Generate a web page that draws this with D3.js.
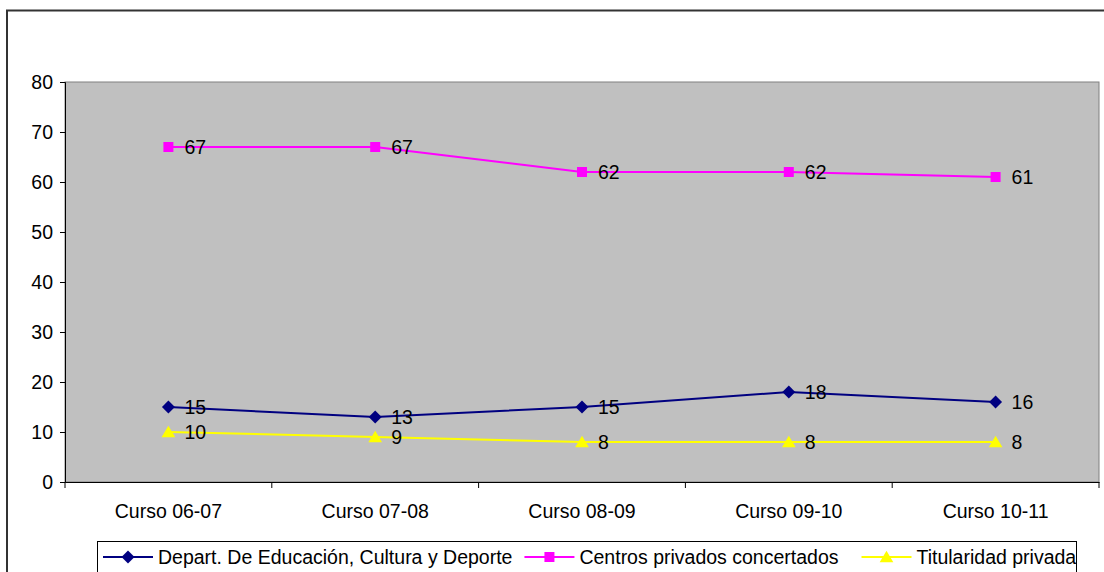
<!DOCTYPE html>
<html><head><meta charset="utf-8">
<script src="https://cdn.jsdelivr.net/npm/d3@7"></script>
<style>body{margin:0;background:#fff}svg{display:block}text{font-family:"Liberation Sans",Arial,sans-serif}</style>
</head><body><svg id="c" width="1104" height="572"></svg>
<script>
const categories = ["Curso 06-07","Curso 07-08","Curso 08-09","Curso 09-10","Curso 10-11"];
const depart = [15,13,15,18,16];
const centros = [67,67,62,62,61];
const titularidad = [10,9,8,8,8];
const seriesNames = ["Depart. De Educación, Cultura y Deporte","Centros privados concertados","Titularidad privada"];
const yTicks = [0,10,20,30,40,50,60,70,80];

const FS = 19.5;
const diamond = {draw(ctx, size){ const r = Math.sqrt(size/2); ctx.moveTo(0,-r); ctx.lineTo(r,0); ctx.lineTo(0,r); ctx.lineTo(-r,0); ctx.closePath(); }};
const tri = {draw(ctx, size){ const h = Math.sqrt(size); ctx.moveTo(0,-h*0.55); ctx.lineTo(h*0.6,h*0.45); ctx.lineTo(-h*0.6,h*0.45); ctx.closePath(); }};

const series = [
  {name: seriesNames[0], values: depart, color: "#000080", shape: diamond, size: 84},
  {name: seriesNames[1], values: centros, color: "#FF00FF", shape: d3.symbolSquare, size: 100},
  {name: seriesNames[2], values: titularidad, color: "#FFFF00", shape: tri, size: 130}
];

const svg = d3.select("#c");
svg.append("rect").attr("x",7).attr("y",10.5).attr("width",1110).attr("height",600)
  .attr("fill","#fff").attr("stroke","#333").attr("stroke-width",2);

const L=65, R=1099, T=82, B=482;
const x = d3.scaleBand().domain(categories).range([L,R]);
const y = d3.scaleLinear().domain([0,80]).range([B,T]);

svg.append("rect").attr("x",L).attr("y",T).attr("width",R-L).attr("height",B-T)
  .attr("fill","#C0C0C0").attr("stroke","#808080").attr("stroke-width",1);

const ya = svg.append("g").attr("transform",`translate(${L},0)`)
  .call(d3.axisLeft(y).tickValues(yTicks).tickSize(5).tickPadding(7));
ya.attr("font-size",FS).attr("font-family",null);
ya.select(".domain").attr("stroke","#000");
ya.selectAll("text").attr("fill","#000");

const xa = svg.append("g").attr("transform",`translate(0,${B})`)
  .call(d3.axisBottom(x).tickSize(0).tickPadding(22));
xa.attr("font-size",FS).attr("font-family",null);
xa.select(".domain").attr("stroke","#000");
xa.selectAll("text").attr("fill","#000");
xa.selectAll(".bt").data(d3.range(categories.length+1)).enter().append("line")
  .attr("x1",i=>L+i*x.bandwidth()).attr("x2",i=>L+i*x.bandwidth())
  .attr("y1",0).attr("y2",6).attr("stroke","#000");

const cx = c => x(c)+x.bandwidth()/2;
const line = d3.line().x((d,i)=>cx(categories[i])).y(d=>y(d));

series.forEach(s=>{
  svg.append("path").datum(s.values).attr("d",line).attr("fill","none")
    .attr("stroke",s.color).attr("stroke-width",2);
  svg.selectAll(null).data(s.values).enter().append("path")
    .attr("d",d3.symbol().type(s.shape).size(s.size))
    .attr("transform",(d,i)=>`translate(${cx(categories[i])},${y(d)})`)
    .attr("fill",s.color);
  svg.selectAll(null).data(s.values).enter().append("text")
    .attr("x",(d,i)=>cx(categories[i])+16).attr("y",d=>y(d))
    .attr("dy","0.35em").attr("font-size",FS).attr("fill","#000").text(d=>d);
});

const lg = svg.append("g");
lg.append("rect").attr("x",97.5).attr("y",541.5).attr("width",979).attr("height",40)
  .attr("fill","#fff").attr("stroke","#000");
let cur = 103;
const gaps = [12,23,0];
series.forEach((s,i)=>{
  const g = lg.append("g").attr("transform",`translate(${cur},557)`);
  g.append("line").attr("x1",0).attr("x2",50).attr("stroke",s.color).attr("stroke-width",2);
  g.append("path").attr("d",d3.symbol().type(s.shape).size(s.size)).attr("transform","translate(25,0)").attr("fill",s.color);
  const t = g.append("text").attr("x",55).attr("dy","0.35em").attr("font-size",FS).attr("fill","#000").text(s.name);
  cur += 55 + t.node().getComputedTextLength() + gaps[i];
});
</script></body></html>
